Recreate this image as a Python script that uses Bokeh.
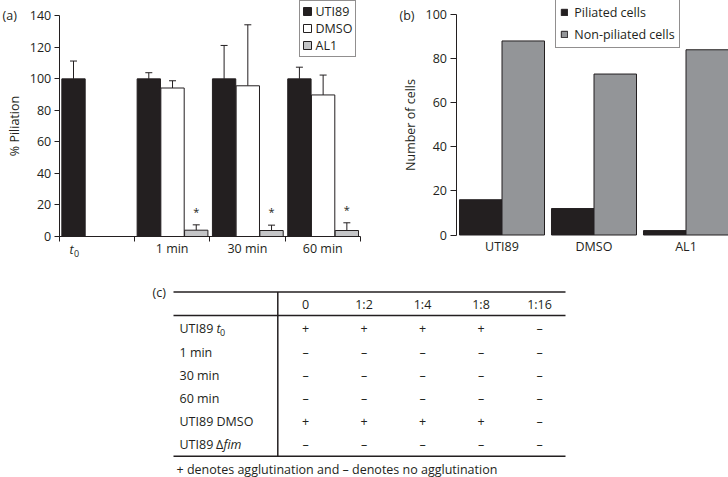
from bokeh.plotting import figure
from bokeh.models import (Range1d, FixedTicker, Whisker, TeeHead, ColumnDataSource,
                          Legend, LegendItem, Label)
from bokeh.layouts import column, row
from bokeh.embed import file_html
from bokeh.resources import INLINE
from bokeh.core.properties import value

# ---------------- data ----------------
time_points = ["t0", "1 min", "30 min", "60 min"]
treatments = ["UTI89", "DMSO", "AL1"]
uti89_pct = [100, 100, 100, 100]          # t0, 1, 30, 60 min
uti89_err = [11.3, 3.9, 21.2, 7.4]
dmso_pct = [94.2, 95.6, 89.8]             # 1, 30, 60 min
dmso_err = [4.6, 38.7, 12.6]
al1_pct = [4.0, 3.8, 3.8]                 # 1, 30, 60 min
al1_err = [3.4, 3.4, 4.9]

strains = ["UTI89", "DMSO", "AL1"]
piliated = [16, 12, 2]
non_piliated = [88, 73, 84]

dilutions = ["0", "1:2", "1:4", "1:8", "1:16"]
row_names = ["UTI89 t0", "1 min", "30 min", "60 min", "UTI89 DMSO", "UTI89 Δfim"]
agglutination = [
    ["+", "+", "+", "+", "–"],
    ["–", "–", "–", "–", "–"],
    ["–", "–", "–", "–", "–"],
    ["–", "–", "–", "–", "–"],
    ["+", "+", "+", "+", "–"],
    ["–", "–", "–", "–", "–"],
]
footnote = "+ denotes agglutination and – denotes no agglutination"

# ---------------- style ----------------
FONT = "Open Sans"
INK = "#231f20"
FS = "12.5px"
C_BLACK = "#231f20"
C_WHITE = "#ffffff"
C_LGREY = "#c4c5c7"
C_GREY = "#939598"

W, H = 728, 477
WA, H1 = 380, 262
WB = W - WA
HC = H - H1

def clean(p):
    p.xgrid.visible = False
    p.ygrid.visible = False
    p.outline_line_color = None
    p.background_fill_color = "white"
    p.border_fill_color = "white"

def style_axis(ax):
    ax.axis_line_color = INK
    ax.major_tick_line_color = INK
    ax.minor_tick_line_color = INK
    ax.major_label_text_font = FONT
    ax.major_label_text_font_size = FS
    ax.major_label_text_color = INK
    ax.major_tick_in = 0
    ax.minor_tick_in = 0
    ax.axis_label_text_font = FONT
    ax.axis_label_text_font_size = FS
    ax.axis_label_text_font_style = "normal"
    ax.axis_label_text_color = INK

# ---------------- panel (a) ----------------
# frame geometry (pixels): x=0 at 58.7, one group = 75.3 px; y=0 at 236, 1 unit = 1.5764 px
AX0, ADX, AY0, ADY = 58.7, 75.3, 236.0, 1.5764
pa = figure(width=WA, height=H1, output_backend="svg", toolbar_location=None,
            x_range=Range1d(-AX0 / ADX, (WA - AX0) / ADX),
            y_range=Range1d(-(H1 - AY0) / ADY, AY0 / ADY),
            min_border=0)
clean(pa)

slot = [0.19, 0.505, 0.82]
bw = 0.31
g_all = list(range(len(time_points)))
g_later = g_all[1:]

xu = [g + slot[0] for g in g_all]
xd = [g + slot[1] for g in g_later]
xa = [g + slot[2] for g in g_later]

r_u = pa.vbar(x=xu, top=uti89_pct, width=bw, bottom=0, fill_color=C_BLACK, line_color=INK, line_width=1)
r_d = pa.vbar(x=xd, top=dmso_pct, width=bw, bottom=0, fill_color=C_WHITE, line_color=INK, line_width=1)
r_a = pa.vbar(x=xa, top=al1_pct, width=bw, bottom=0, fill_color=C_LGREY, line_color=INK, line_width=1)

for xs, vals, errs in [(xu, uti89_pct, uti89_err), (xd, dmso_pct, dmso_err), (xa, al1_pct, al1_err)]:
    src = ColumnDataSource(dict(x=xs, lower=vals, upper=[v + e for v, e in zip(vals, errs)]))
    w = Whisker(source=src, base="x", lower="lower", upper="upper", dimension="height",
                line_color=INK, line_width=1,
                upper_head=TeeHead(size=7, line_color=INK, line_width=1), lower_head=None)
    pa.add_layout(w)

pa.text(x=xa, y=[v + e + 8.6 for v, e in zip(al1_pct, al1_err)], text=["*"] * len(xa),
        text_align="center", text_baseline="middle", text_font=value(FONT),
        text_font_size="11px", text_color=INK)

style_axis(pa.xaxis[0])
style_axis(pa.yaxis[0])
pa.yaxis.fixed_location = 0
pa.yaxis.bounds = (0, 140)
pa.yaxis.ticker = FixedTicker(ticks=list(range(0, 141, 20)))
pa.yaxis.major_tick_out = 5
pa.yaxis.minor_tick_out = 0
pa.yaxis.major_label_standoff = 3
pa.yaxis.axis_label = "% Piliation"
pa.yaxis.axis_label_standoff = 4

label_pos = [xu[0]] + [g + 0.5 for g in g_later]
pa.xaxis.fixed_location = 0
pa.xaxis.bounds = (0, len(time_points))
pa.xaxis.ticker = FixedTicker(ticks=label_pos, minor_ticks=list(range(len(time_points) + 1)))
pa.xaxis.major_label_overrides = {label_pos[0]: ""} | {lp: t for lp, t in zip(label_pos[1:], time_points[1:])}
pa.xaxis.major_tick_out = 0
pa.xaxis.minor_tick_out = 5
pa.xaxis.major_label_standoff = -2

# t0 label with italic t and subscript 0
pa.add_layout(Label(x=label_pos[0], y=0, x_offset=-2, y_offset=-12.5, text="t",
                    text_font=FONT, text_font_size=FS, text_font_style="italic",
                    text_color=INK, text_align="center", text_baseline="middle"))
pa.add_layout(Label(x=label_pos[0], y=0, x_offset=3, y_offset=-17, text="0",
                    text_font=FONT, text_font_size="9px", text_color=INK,
                    text_align="center", text_baseline="middle"))
pa.add_layout(Label(x=(2 - AX0) / ADX, y=(AY0 - 15) / ADY, text="(a)", text_font=FONT,
                    text_font_size=FS, text_color=INK, text_align="left", text_baseline="middle"))

leg_a_h = 56
leg_a = Legend(items=[LegendItem(label=n, renderers=[r]) for n, r in zip(treatments, [r_u, r_d, r_a])],
               location=(298.5, H1 - 0.5 - leg_a_h),
               border_line_color=INK, border_line_width=1, background_fill_color="white",
               background_fill_alpha=1, glyph_width=10, glyph_height=10, label_height=12,
               label_width=37, label_standoff=4, padding=2, spacing=0, margin=0,
               label_text_font=FONT, label_text_font_size=FS, label_text_color=INK)
pa.add_layout(leg_a)

# ---------------- panel (b) ----------------
# frame geometry: x=0 at 455.5 (page), group = 92 px; y=0 at 234.5, 1 unit = 2.205 px
BX0, BDX, BY0, BDY = 455.5 - WA, 92.0, 234.5, 2.205
pb = figure(width=WB, height=H1, output_backend="svg", toolbar_location=None,
            x_range=Range1d(-BX0 / BDX, (WB - BX0) / BDX),
            y_range=Range1d(-(H1 - BY0) / BDY, BY0 / BDY),
            min_border=0)
clean(pb)
bwb = 0.462
gb = [i + 0.5 for i in range(len(strains))]
r_p = pb.vbar(x=[c - bwb / 2 for c in gb], top=piliated, width=bwb, fill_color=C_BLACK, line_color=INK, line_width=1)
r_n = pb.vbar(x=[c + bwb / 2 for c in gb], top=non_piliated, width=bwb, fill_color=C_GREY, line_color=INK, line_width=1)

style_axis(pb.xaxis[0])
style_axis(pb.yaxis[0])
pb.yaxis.fixed_location = 0
pb.yaxis.bounds = (0, 100)
pb.yaxis.ticker = FixedTicker(ticks=list(range(0, 101, 20)))
pb.yaxis.major_tick_out = 6
pb.yaxis.minor_tick_out = 0
pb.yaxis.major_label_standoff = 3
pb.yaxis.axis_label = "Number of cells"
pb.yaxis.axis_label_standoff = 4

pb.xaxis.fixed_location = 0
pb.xaxis.ticker = FixedTicker(ticks=gb)
pb.xaxis.major_label_overrides = {c: s for c, s in zip(gb, strains)}
pb.xaxis.axis_line_color = None
pb.xaxis.major_tick_out = 0
pb.xaxis.minor_tick_out = 0
pb.xaxis.major_label_standoff = 3

pb.add_layout(Label(x=(399 - 455.5) / BDX, y=(BY0 - 15) / BDY, text="(b)", text_font=FONT,
                    text_font_size=FS, text_color=INK, text_align="left", text_baseline="middle"))
leg_b_h = 47
leg_b = Legend(items=[LegendItem(label="Piliated cells", renderers=[r_p]),
                      LegendItem(label="Non-piliated cells", renderers=[r_n])],
               location=(555.3 - WA, H1 - 0.5 - leg_b_h),
               border_line_color=INK, border_line_width=1, background_fill_color="white",
               background_fill_alpha=1, glyph_width=8, glyph_height=8, label_height=12,
               label_standoff=6, padding=4, spacing=5, margin=0,
               label_text_font=FONT, label_text_font_size=FS, label_text_color=INK)
pb.add_layout(leg_b)

# ---------------- panel (c) : table ----------------
pc = figure(width=W, height=HC, output_backend="svg", toolbar_location=None,
            x_range=Range1d(0, W), y_range=Range1d(H, H1),
            x_axis_location=None, y_axis_location=None, min_border=0)
clean(pc)

col_x = [305 + 58.5 * i for i in range(len(dilutions))]
row_y = [328.3 + 23.2 * i for i in range(len(row_names))]
head_y = 304.3
rule_top, rule_head, rule_bot = 291.5, 315, 455.7
x_l, x_r, x_v = 173, 565, 277.3
lab_x = 179

pc.segment(x0=[x_l, x_l, x_l], x1=[x_r, x_r, x_r], y0=[rule_top, rule_head, rule_bot],
           y1=[rule_top, rule_head, rule_bot], line_color=INK, line_width=1.5)
pc.segment(x0=[x_v], x1=[x_v], y0=[rule_top], y1=[rule_bot], line_color=INK, line_width=1.5)

tkw = dict(text_font=value(FONT), text_font_size=FS, text_color=INK, text_baseline="middle")
pc.text(x=[152], y=[rule_top], text=["(c)"], text_align="left", **tkw)
pc.text(x=col_x, y=[head_y] * len(col_x), text=dilutions, text_align="center", **tkw)

cx, cy, ct = [], [], []
for r, yy in zip(agglutination, row_y):
    for s, xx in zip(r, col_x):
        cx.append(xx); cy.append(yy); ct.append(s)
pc.text(x=cx, y=cy, text=ct, text_align="center", **tkw)

plain_rows = ["UTI89", "1 min", "30 min", "60 min", "UTI89 DMSO", "UTI89"]
pc.text(x=[lab_x] * len(row_y), y=row_y, text=plain_rows, text_align="left", **tkw)
pc.text(x=[216], y=[row_y[0]], text=["t"], text_align="left", text_font_style="italic", **tkw)
pc.text(x=[219.5], y=[row_y[0] + 4], text=["0"], text_align="left", text_font=value(FONT),
        text_font_size="9px", text_color=INK, text_baseline="middle")
pc.text(x=[215.5], y=[row_y[5]], text=["Δ"], text_align="left", **tkw)
pc.text(x=[223], y=[row_y[5]], text=["fim"], text_align="left", text_font_style="italic", **tkw)
pc.text(x=[176], y=[469], text=[footnote], text_align="left", **tkw)

layout = column(row(pa, pb), pc)
open("out.html", "w").write(file_html(layout, INLINE))
